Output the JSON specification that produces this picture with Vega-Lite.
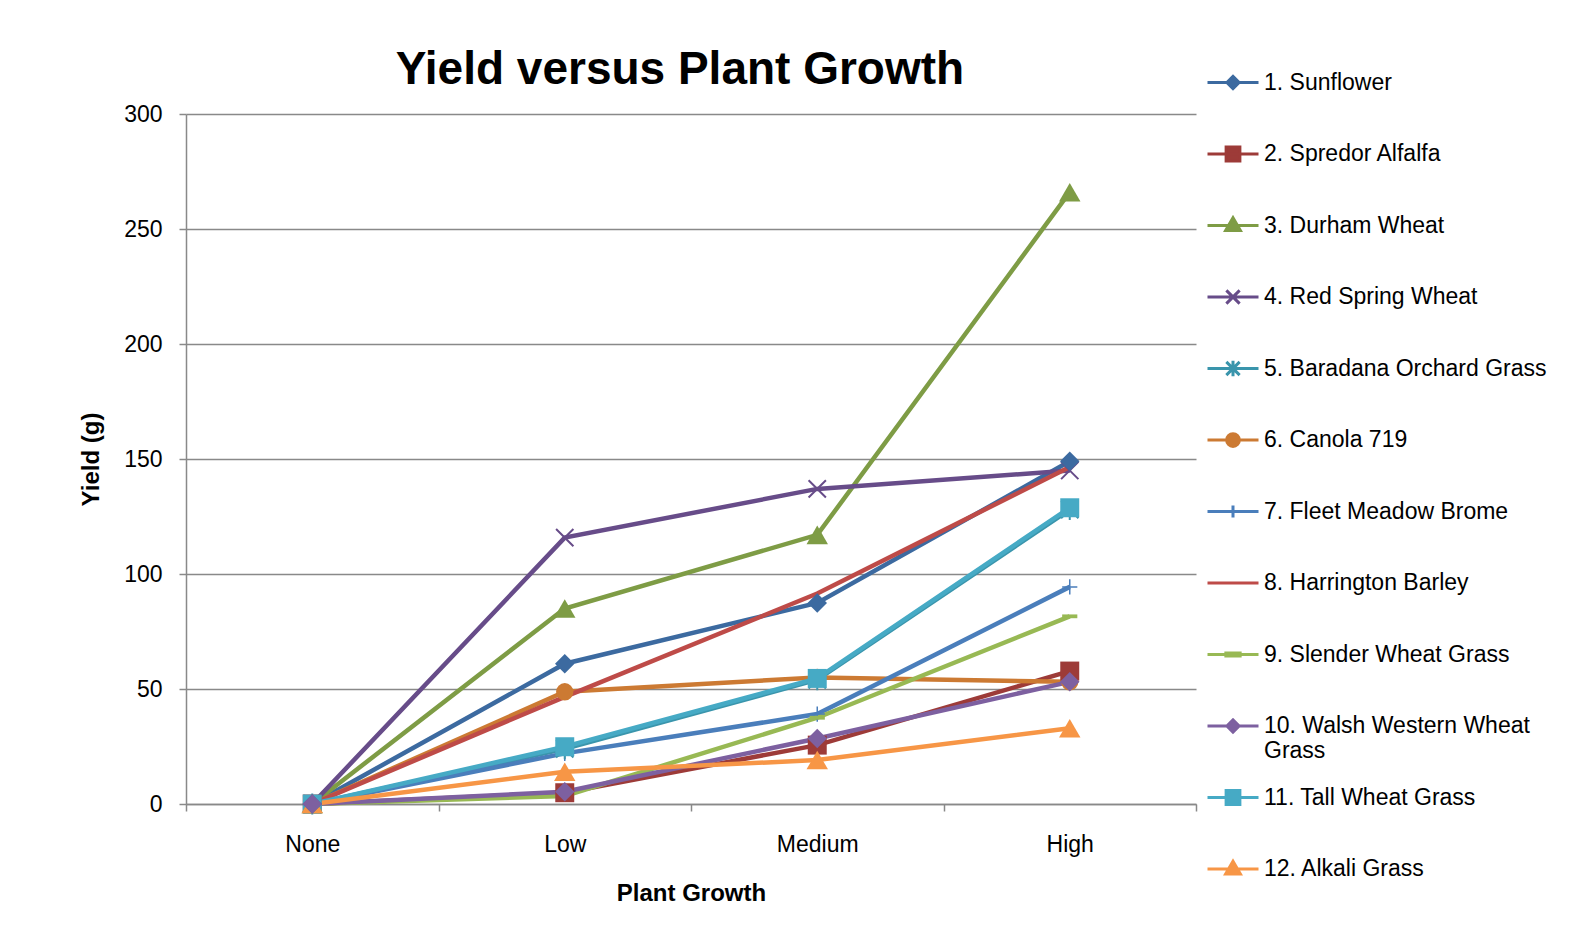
{
  "$schema": "https://vega.github.io/schema/vega-lite/v6.json",
  "autosize": {"type": "fit", "contains": "padding"},
  "width": 1589,
  "height": 936,
  "padding": {"left": 79, "top": 47, "right": 392, "bottom": 31},
  "background": "white",
  "title": {
    "text": "Yield versus Plant Growth",
    "font": "Liberation Sans",
    "fontSize": 46,
    "fontWeight": "bold",
    "color": "black",
    "anchor": "middle",
    "dx": -11,
    "offset": 9
  },
  "data": {
    "values": [
      {"series": "1. Sunflower", "growth": "None", "yield": 0},
      {"series": "1. Sunflower", "growth": "Low", "yield": 61},
      {"series": "1. Sunflower", "growth": "Medium", "yield": 87.4},
      {"series": "1. Sunflower", "growth": "High", "yield": 149},
      {"series": "2. Spredor Alfalfa", "growth": "None", "yield": 0},
      {"series": "2. Spredor Alfalfa", "growth": "Low", "yield": 4.9},
      {"series": "2. Spredor Alfalfa", "growth": "Medium", "yield": 25.6},
      {"series": "2. Spredor Alfalfa", "growth": "High", "yield": 57.8},
      {"series": "3. Durham Wheat", "growth": "None", "yield": 0},
      {"series": "3. Durham Wheat", "growth": "Low", "yield": 85},
      {"series": "3. Durham Wheat", "growth": "Medium", "yield": 117},
      {"series": "3. Durham Wheat", "growth": "High", "yield": 266},
      {"series": "4. Red Spring Wheat", "growth": "None", "yield": 0},
      {"series": "4. Red Spring Wheat", "growth": "Low", "yield": 115.8},
      {"series": "4. Red Spring Wheat", "growth": "Medium", "yield": 137},
      {"series": "4. Red Spring Wheat", "growth": "High", "yield": 145},
      {"series": "5. Baradana Orchard Grass", "growth": "None", "yield": 0},
      {"series": "5. Baradana Orchard Grass", "growth": "Low", "yield": 24},
      {"series": "5. Baradana Orchard Grass", "growth": "Medium", "yield": 54},
      {"series": "5. Baradana Orchard Grass", "growth": "High", "yield": 128},
      {"series": "6. Canola 719", "growth": "None", "yield": 0},
      {"series": "6. Canola 719", "growth": "Low", "yield": 48.8},
      {"series": "6. Canola 719", "growth": "Medium", "yield": 55},
      {"series": "6. Canola 719", "growth": "High", "yield": 53.1},
      {"series": "7. Fleet Meadow Brome", "growth": "None", "yield": 0},
      {"series": "7. Fleet Meadow Brome", "growth": "Low", "yield": 22},
      {"series": "7. Fleet Meadow Brome", "growth": "Medium", "yield": 39.1},
      {"series": "7. Fleet Meadow Brome", "growth": "High", "yield": 94.4},
      {"series": "8. Harrington Barley", "growth": "None", "yield": 0},
      {"series": "8. Harrington Barley", "growth": "Low", "yield": 46.6},
      {"series": "8. Harrington Barley", "growth": "Medium", "yield": 91.5},
      {"series": "8. Harrington Barley", "growth": "High", "yield": 146.5},
      {"series": "9. Slender Wheat Grass", "growth": "None", "yield": 0},
      {"series": "9. Slender Wheat Grass", "growth": "Low", "yield": 3.5},
      {"series": "9. Slender Wheat Grass", "growth": "Medium", "yield": 37.5},
      {"series": "9. Slender Wheat Grass", "growth": "High", "yield": 81.6},
      {"series": "10. Walsh Western Wheat Grass", "growth": "None", "yield": 0},
      {"series": "10. Walsh Western Wheat Grass", "growth": "Low", "yield": 5.3},
      {"series": "10. Walsh Western Wheat Grass", "growth": "Medium", "yield": 28.5},
      {"series": "10. Walsh Western Wheat Grass", "growth": "High", "yield": 53.1},
      {"series": "11. Tall Wheat Grass", "growth": "None", "yield": 0},
      {"series": "11. Tall Wheat Grass", "growth": "Low", "yield": 24.9},
      {"series": "11. Tall Wheat Grass", "growth": "Medium", "yield": 54.6},
      {"series": "11. Tall Wheat Grass", "growth": "High", "yield": 128.8},
      {"series": "12. Alkali Grass", "growth": "None", "yield": 0},
      {"series": "12. Alkali Grass", "growth": "Low", "yield": 14},
      {"series": "12. Alkali Grass", "growth": "Medium", "yield": 19.1},
      {"series": "12. Alkali Grass", "growth": "High", "yield": 32.9}
    ]
  },
  "encoding": {
    "x": {
      "field": "growth",
      "type": "nominal",
      "sort": ["None", "Low", "Medium", "High"],
      "scale": {"type": "band", "paddingInner": 0, "paddingOuter": 0},
      "axis": {
        "title": "Plant Growth",
        "titleFont": "Liberation Sans",
        "titleFontSize": 24,
        "titleFontWeight": "bold",
        "titleColor": "black",
        "titlePadding": 25,
        "labelFont": "Liberation Sans",
        "labelFontSize": 23,
        "labelColor": "black",
        "labelAngle": 0,
        "labelPadding": 22,
        "tickBand": "extent",
        "tickSize": 7,
        "tickColor": "#898989",
        "tickWidth": 1.5,
        "domainColor": "#898989",
        "domainWidth": 1.5,
        "grid": false
      }
    },
    "y": {
      "field": "yield",
      "type": "quantitative",
      "scale": {"domain": [0, 300], "nice": false},
      "axis": {
        "title": "Yield (g)",
        "titleFont": "Liberation Sans",
        "titleFontSize": 24,
        "titleFontWeight": "bold",
        "titleColor": "black",
        "titlePadding": 20,
        "labelFont": "Liberation Sans",
        "labelFontSize": 23,
        "labelColor": "black",
        "labelPadding": 17,
        "values": [0, 50, 100, 150, 200, 250, 300],
        "tickSize": 7,
        "tickColor": "#898989",
        "tickWidth": 1.5,
        "domainColor": "#898989",
        "domainWidth": 1.5,
        "grid": true,
        "gridColor": "#898989",
        "gridWidth": 1.5
      }
    }
  },
  "layer": [
    {
      "transform": [{"filter": "false"}],
      "mark": {"type": "point", "filled": true, "opacity": 1},
      "encoding": {
        "x": null,
        "y": null,
        "color": {
          "field": "series",
          "type": "nominal",
          "scale": {
            "domain": ["1. Sunflower", "2. Spredor Alfalfa", "3. Durham Wheat", "4. Red Spring Wheat", "5. Baradana Orchard Grass", "6. Canola 719", "7. Fleet Meadow Brome", "8. Harrington Barley", "9. Slender Wheat Grass", "10. Walsh Western Wheat Grass", "11. Tall Wheat Grass", "12. Alkali Grass"],
            "range": ["#3C6AA0", "#9D3B38", "#7E9C45", "#674C89", "#3A95AC", "#CC7A33", "#4A7EBB", "#BE4B48", "#98B954", "#7D60A0", "#46AAC5", "#F79646"]
          },
          "legend": {
            "title": null,
            "orient": "none",
            "legendX": 1020,
            "legendY": -58.5,
            "padding": 0,
            "symbolSize": 2601,
            "symbolStrokeWidth": 3,
            "symbolOpacity": 1,
            "rowPadding": 1.5,
            "labelOffset": 4,
            "labelFont": "Liberation Sans",
            "labelFontSize": 23,
            "labelColor": "black",
            "labelLimit": 400,
            "labelExpr": "datum.label == '10. Walsh Western Wheat Grass' ? ['10. Walsh Western Wheat', 'Grass'] : datum.label",
            "encode": {
              "symbols": {
                "update": {
                  "fill": {"value": {"expr": "scale('color', datum.value)"}},
                  "stroke": {"value": {"expr": "scale('color', datum.value)"}},
                  "strokeWidth": {"value": 3},
                  "opacity": {"value": 1}
                }
              }
            }
          }
        },
        "shape": {
          "field": "series",
          "type": "nominal",
          "scale": {
            "domain": ["1. Sunflower", "2. Spredor Alfalfa", "3. Durham Wheat", "4. Red Spring Wheat", "5. Baradana Orchard Grass", "6. Canola 719", "7. Fleet Meadow Brome", "8. Harrington Barley", "9. Slender Wheat Grass", "10. Walsh Western Wheat Grass", "11. Tall Wheat Grass", "12. Alkali Grass"],
            "range": [
              "M-1,0H1M-0.24,0L0,-0.24L0.24,0L0,0.24ZM0,1.45",
              "M-1,0H1M-0.27,-0.27H0.27V0.27H-0.27ZM0,1.45",
              "M-1,0H1M0,-0.3L0.29,0.2H-0.29ZM0,1.45",
              "M-1,0H1M-0.26,-0.26L0.26,0.26M-0.26,0.26L0.26,-0.26M0,1.45",
              "M-1,0H1M-0.26,-0.26L0.26,0.26M-0.26,0.26L0.26,-0.26M0,-0.3V0.3M0,1.45",
              "M-1,0H1M0.25,0A0.25,0.25,0,1,1,-0.25,0A0.25,0.25,0,1,1,0.25,0ZM0,1.45",
              "M-1,0H1M0,-0.24V0.24M0,1.45",
              "M-1,0H1M0,1.45",
              "M-1,0H1M-0.28,-0.06H0.28V0.06H-0.28ZM0,1.45",
              "M-1,0H1M-0.24,0L0,-0.24L0.24,0L0,0.24ZM0,1.45",
              "M-1,0H1M-0.27,-0.27H0.27V0.27H-0.27ZM0,1.45",
              "M-1,0H1M0,-0.3L0.29,0.2H-0.29ZM0,1.45"
            ]
          },
          "legend": {
            "title": null,
            "orient": "none",
            "legendX": 1020,
            "legendY": -58.5,
            "padding": 0,
            "symbolSize": 2601,
            "symbolStrokeWidth": 3,
            "symbolOpacity": 1,
            "rowPadding": 1.5,
            "labelOffset": 4,
            "labelFont": "Liberation Sans",
            "labelFontSize": 23,
            "labelColor": "black",
            "labelLimit": 400
          }
        }
      }
    },
    {
      "mark": {"type": "line", "strokeWidth": 4.5},
      "encoding": {
        "color": {"field": "series", "type": "nominal"}
      }
    },
    {
      "transform": [{"filter": {"field": "series", "oneOf": ["6. Canola 719"]}}],
      "mark": {"type": "point", "filled": true, "opacity": 1, "shape": "circle", "size": 300},
      "encoding": {"color": {"field": "series", "type": "nominal"}}
    },
    {
      "transform": [{"filter": {"field": "series", "oneOf": ["7. Fleet Meadow Brome"]}}],
      "mark": {"type": "point", "filled": false, "opacity": 1, "shape": "M-1,0H1M0,-1V1", "size": 230, "strokeWidth": 1.5},
      "encoding": {"color": {"field": "series", "type": "nominal"}}
    },
    {
      "transform": [{"filter": {"field": "series", "oneOf": ["9. Slender Wheat Grass"]}}],
      "mark": {"type": "point", "filled": true, "opacity": 1, "shape": "M-1,-0.25H1V0.25H-1Z", "size": 230},
      "encoding": {"color": {"field": "series", "type": "nominal"}}
    },
    {
      "transform": [{"filter": {"field": "series", "oneOf": ["4. Red Spring Wheat"]}}],
      "mark": {"type": "point", "filled": false, "opacity": 1, "shape": "M-1,-1L1,1M-1,1L1,-1", "size": 300, "strokeWidth": 2},
      "encoding": {"color": {"field": "series", "type": "nominal"}}
    },
    {
      "transform": [{"filter": {"field": "series", "oneOf": ["5. Baradana Orchard Grass"]}}],
      "mark": {"type": "point", "filled": false, "opacity": 1, "shape": "M-1,-1L1,1M-1,1L1,-1M0,-1.2V1.2", "size": 300, "strokeWidth": 2},
      "encoding": {"color": {"field": "series", "type": "nominal"}}
    },
    {
      "transform": [{"filter": {"field": "series", "oneOf": ["2. Spredor Alfalfa", "11. Tall Wheat Grass"]}}],
      "mark": {"type": "point", "filled": true, "opacity": 1, "shape": "square", "size": 360},
      "encoding": {"color": {"field": "series", "type": "nominal"}}
    },
    {
      "transform": [{"filter": {"field": "series", "oneOf": ["3. Durham Wheat", "12. Alkali Grass"]}}],
      "mark": {"type": "point", "filled": true, "opacity": 1, "shape": "triangle-up", "size": 460},
      "encoding": {"color": {"field": "series", "type": "nominal"}}
    },
    {
      "transform": [{"filter": {"field": "series", "oneOf": ["1. Sunflower", "10. Walsh Western Wheat Grass"]}}],
      "mark": {"type": "point", "filled": true, "opacity": 1, "shape": "diamond", "size": 380},
      "encoding": {"color": {"field": "series", "type": "nominal"}}
    }
  ],
  "config": {
    "view": {"stroke": null},
    "font": "Liberation Sans"
  }
}
